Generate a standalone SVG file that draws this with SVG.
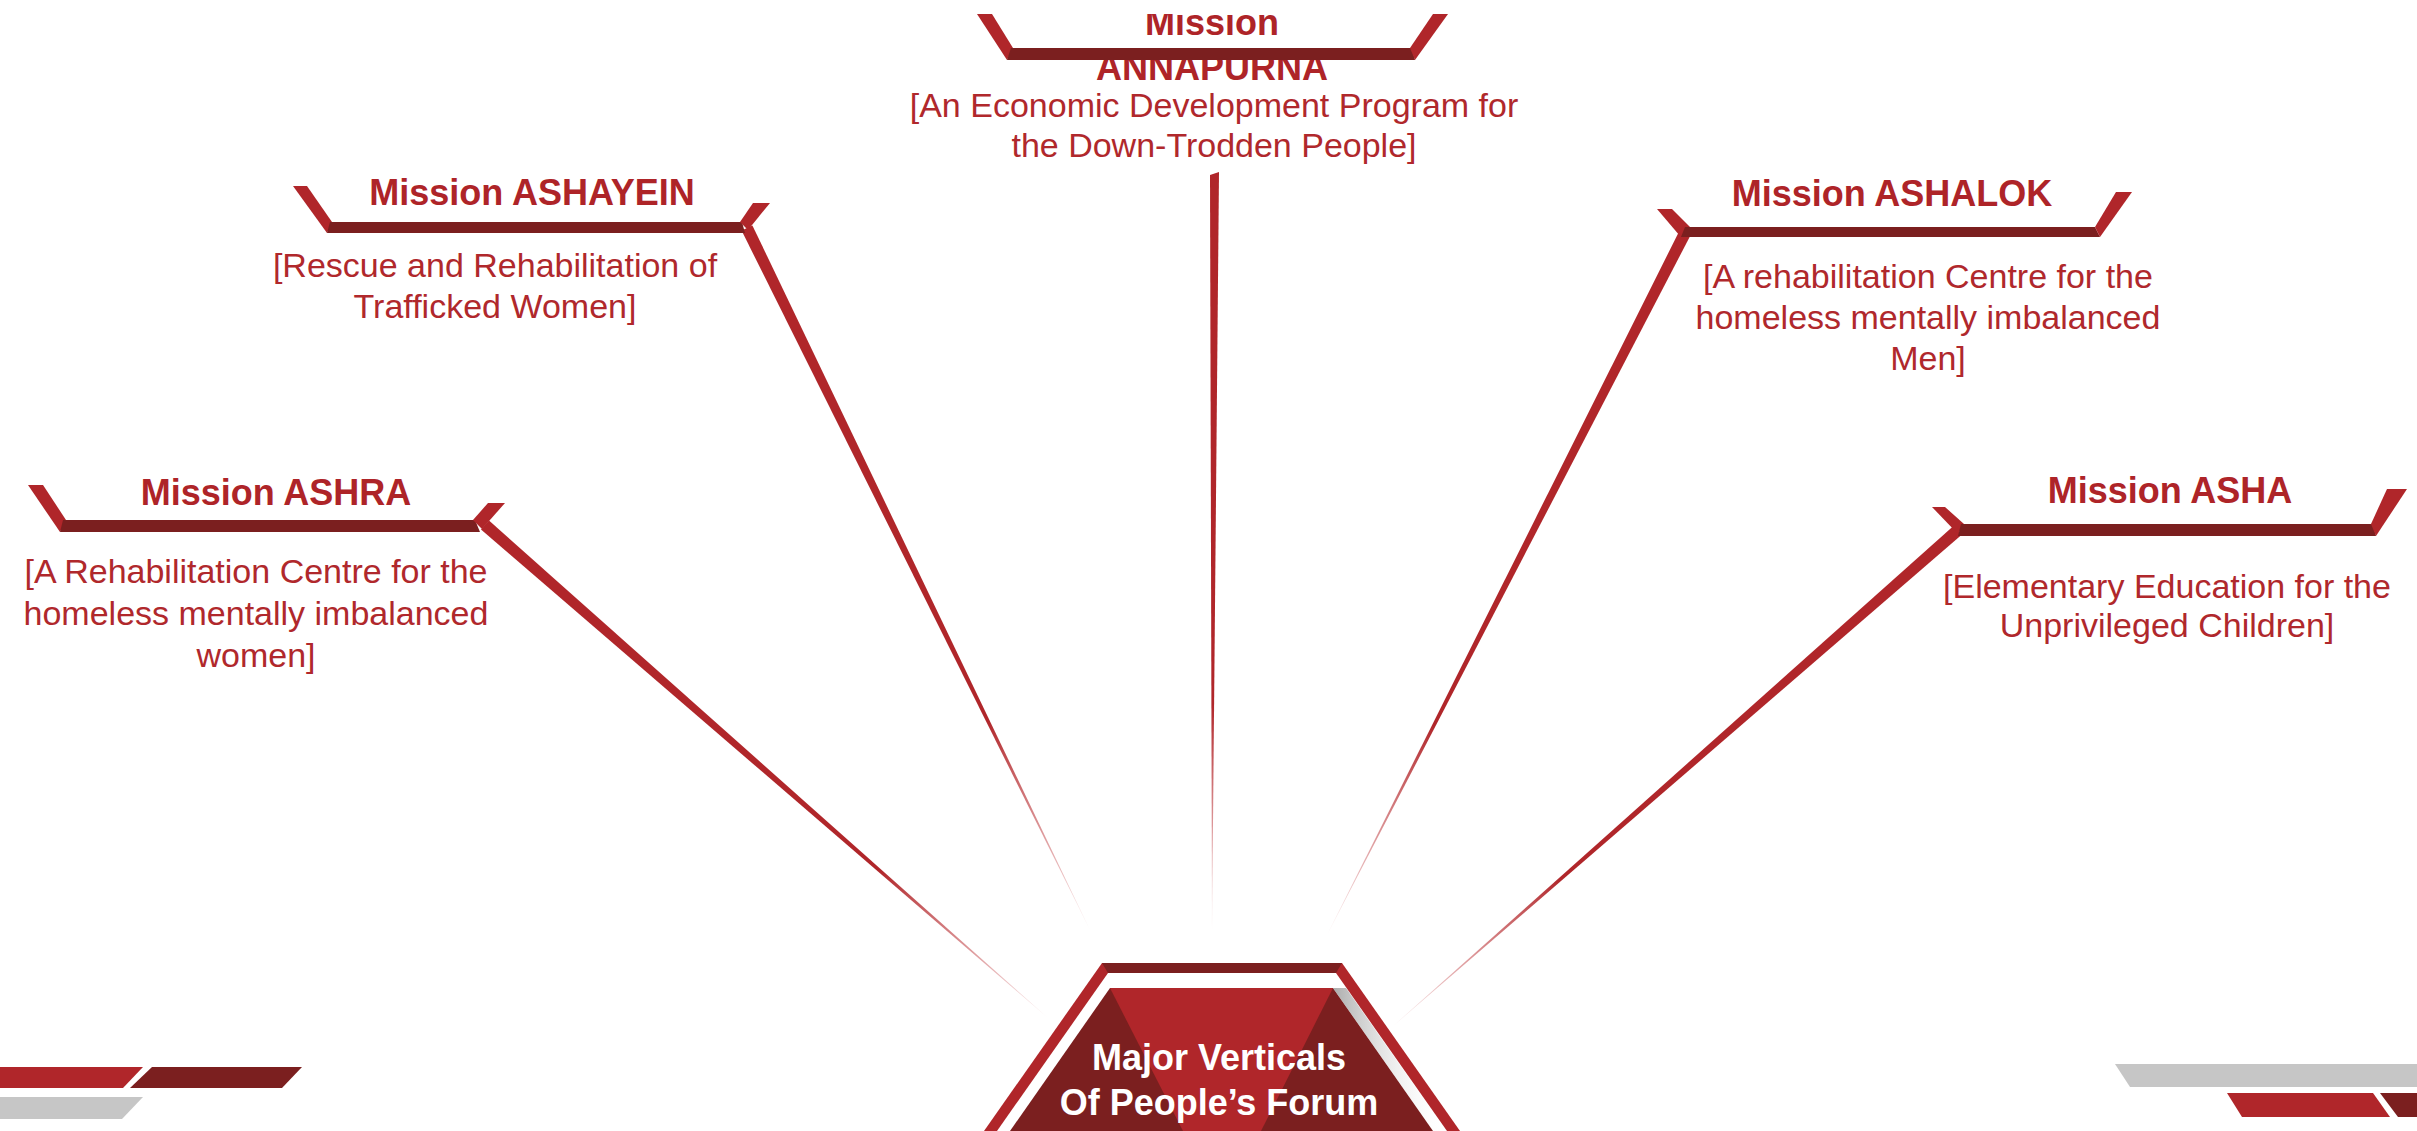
<svg xmlns="http://www.w3.org/2000/svg" width="2417" height="1131" viewBox="0 0 2417 1131">
<style>
.t{font-family:"Liberation Sans",Arial,sans-serif;font-weight:bold;font-size:36px;fill:#ae2428;text-anchor:middle}
.d{font-family:"Liberation Sans",Arial,sans-serif;font-size:34px;fill:#b0282c;text-anchor:middle}
.c{font-family:"Liberation Sans",Arial,sans-serif;font-weight:bold;font-size:36px;fill:#ffffff;text-anchor:middle}
.w{fill:#b0262a}
.b{fill:#7b1f1f}
.g{fill:#c6c6c6}
</style>
<defs>
<linearGradient id="cg">
<stop offset="0" stop-color="#b0262a" stop-opacity="1"/>
<stop offset="0.7" stop-color="#b0262a" stop-opacity="1"/>
<stop offset="1" stop-color="#c8474b" stop-opacity="0.1"/>
</linearGradient>
<linearGradient id="g1" href="#cg" gradientUnits="userSpaceOnUse" x1="485" y1="525" x2="1048" y2="1018"/>
<linearGradient id="g2" href="#cg" gradientUnits="userSpaceOnUse" x1="747" y1="228" x2="1090" y2="930"/>
<linearGradient id="g3" href="#cg" gradientUnits="userSpaceOnUse" x1="1214" y1="173" x2="1212" y2="932"/>
<linearGradient id="g4" href="#cg" gradientUnits="userSpaceOnUse" x1="1685" y1="233" x2="1327" y2="935"/>
<linearGradient id="g5" href="#cg" gradientUnits="userSpaceOnUse" x1="1958" y1="530" x2="1392" y2="1027"/>
<linearGradient id="sh" x1="0" y1="0" x2="1" y2="0">
<stop offset="0" stop-color="#888888" stop-opacity="0.7"/>
<stop offset="1" stop-color="#ffffff" stop-opacity="0"/>
</linearGradient>
<clipPath id="topclip"><rect x="0" y="14" width="2417" height="1117"/></clipPath>
</defs>
<rect width="2417" height="1131" fill="#ffffff"/>

<g id="connectors">
<polygon points="481,529.5 489,520.5 1048,1018" fill="url(#g1)"/>
<polygon points="741.6,230.6 752.4,225.4 1090,930" fill="url(#g2)"/>
<polygon points="1210,175 1219,172 1212,932" fill="url(#g3)"/>
<polygon points="1690.3,235.7 1679.7,230.3 1327,935" fill="url(#g4)"/>
<polygon points="1962,534.5 1954,525.5 1392,1027" fill="url(#g5)"/>
</g>

<g id="ashra">
<polygon class="w" points="28,485 43,485 66,520 60,532"/>
<polygon class="b" points="63,520 475,520 480,532 60,532"/>
<polygon class="w" points="473,520 488,503 505,503 482,529"/>
<text class="t" x="276" y="505">Mission ASHRA</text>
<text class="d" x="256" y="583">[A Rehabilitation Centre for the</text>
<text class="d" x="256" y="625">homeless mentally imbalanced</text>
<text class="d" x="256" y="667">women]</text>
</g>

<g id="ashayein">
<polygon class="w" points="293,186 307,186 332,222 327,233"/>
<polygon class="b" points="330,222 742,222 745,233 327,233"/>
<polygon class="w" points="740,222 753,203 770,203 748,230"/>
<text class="t" x="532" y="205">Mission ASHAYEIN</text>
<text class="d" x="495" y="277">[Rescue and Rehabilitation of</text>
<text class="d" x="495" y="318">Trafficked Women]</text>
</g>

<g id="annapurna" clip-path="url(#topclip)">
<text class="t" x="1212" y="35">Mission</text>
<text class="t" x="1212" y="80">ANNAPURNA</text>
<polygon class="w" points="977,14 992,14 1013,48 1007,60"/>
<polygon class="b" points="1011,48 1412,48 1415,60 1007,60"/>
<polygon class="w" points="1410,48 1433,14 1448,14 1415,60"/>
<text class="d" x="1214" y="117">[An Economic Development Program for</text>
<text class="d" x="1214" y="157">the Down-Trodden People]</text>
</g>

<g id="ashalok">
<polygon class="w" points="1657,209 1672,209 1690,227 1680,236"/>
<polygon class="b" points="1685,227 2095,227 2100,237 1681,237"/>
<polygon class="w" points="2095,227 2116,192 2132,192 2100,237"/>
<text class="t" x="1892" y="206">Mission ASHALOK</text>
<text class="d" x="1928" y="288">[A rehabilitation Centre for the</text>
<text class="d" x="1928" y="329">homeless mentally imbalanced</text>
<text class="d" x="1928" y="370">Men]</text>
</g>

<g id="asha">
<polygon class="w" points="1932,507 1945,507 1964,524 1958,534"/>
<polygon class="b" points="1961,524 2373,524 2376,536 1958,536"/>
<polygon class="w" points="2371,524 2387,489 2407,489 2376,536"/>
<text class="t" x="2170" y="503">Mission ASHA</text>
<text class="d" x="2167" y="598">[Elementary Education for the</text>
<text class="d" x="2167" y="637">Unprivileged Children]</text>
</g>

<g id="center">
<polygon class="w" points="984,1131 1102,963 1342,963 1460,1131"/>
<polygon fill="#ffffff" points="997,1131 1108,973 1336,973 1447,1131"/>
<polygon class="b" points="1102,963 1342,963 1336,973 1108,973"/>
<polygon class="b" points="1010,1131 1110,988 1333,988 1433,1131"/>
<polygon class="w" points="1110,988 1333,988 1261,1131 1183,1131"/>
<polygon fill="url(#sh)" points="1333,988 1346,988 1446,1131 1433,1131"/>
<text class="c" x="1219" y="1070">Major Verticals</text>
<text class="c" x="1219" y="1115">Of People’s Forum</text>
</g>

<g id="deco-left">
<polygon class="w" points="0,1067 143,1067 123,1088 0,1088"/>
<polygon class="b" points="152,1067 302,1067 282,1088 130,1088"/>
<polygon class="g" points="0,1097 143,1097 122,1119 0,1119"/>
</g>

<g id="deco-right">
<polygon class="g" points="2115,1064 2417,1064 2417,1087 2130,1087"/>
<polygon class="w" points="2227,1093 2373,1093 2390,1117 2242,1117"/>
<polygon class="b" points="2380,1093 2417,1093 2417,1117 2398,1117"/>
</g>
</svg>
